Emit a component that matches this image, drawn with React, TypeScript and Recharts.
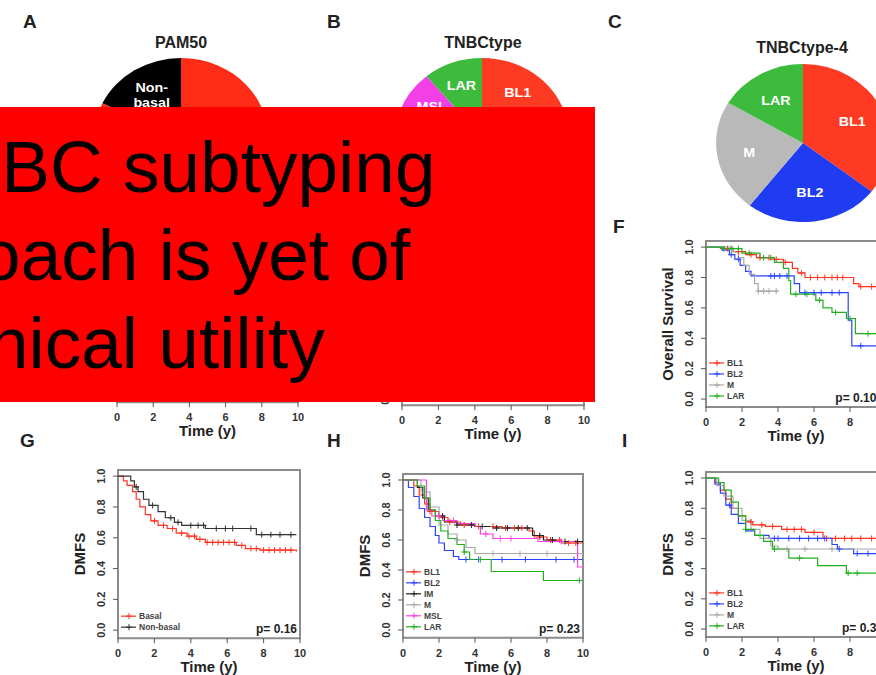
import React from "react";
import {
  ComposedChart,
  Line,
  Scatter,
  XAxis,
  YAxis,
  ReferenceArea,
  PieChart,
  Pie,
  Cell,
} from "recharts";

type Pt = [number, number];

const FONT = '"Liberation Sans", Arial, Helvetica, sans-serif';

// axis ticks
const yearTicks = [0, 2, 4, 6, 8, 10];
const survTicks = [0, 0.2, 0.4, 0.6, 0.8, 1];

// A: PAM50 split (%)
const pam50Names = ["Basal", "Non-basal"];
const pam50Share = [82, 18];
// B: TNBCtype (%)
const tnbcNames = ["BL1", "BL2", "IM", "M", "MSL", "LAR"];
const tnbcShare = [20, 14, 22, 24, 9, 11];
// C: TNBCtype-4 (%)
const tnbc4Names = ["BL1", "BL2", "M", "LAR"];
const tnbc4Share = [35.5, 25, 23, 16.5];

const PIE_COLORS: Record<string, string> = {
  Basal: "#ff2d17",
  "Non-basal": "#000000",
  BL1: "#ff3a22",
  BL2: "#1f3cf2",
  IM: "#111111",
  M: "#b9b9b9",
  MSL: "#f23fe6",
  LAR: "#3dbb3d",
};

const LINE_COLORS: Record<string, string> = {
  Basal: "#ff3322",
  "Non-basal": "#333333",
  BL1: "#ff3322",
  BL2: "#2a44ff",
  IM: "#222222",
  M: "#a9a9a9",
  MSL: "#ff40e0",
  LAR: "#22b022",
};

// F: overall survival by TNBCtype-4  [time (y), survival]
const osBL1: Pt[] = [[0, 1], [0.8, 0.99], [1.5, 0.97], [2.2, 0.95], [2.8, 0.93], [3.6, 0.92], [4.3, 0.9], [4.8, 0.86], [5.1, 0.83], [5.5, 0.8], [8.2, 0.76], [8.5, 0.74], [10, 0.74]];
const osBL2: Pt[] = [[0, 1], [0.9, 0.98], [1.3, 0.95], [1.6, 0.92], [1.9, 0.88], [2.2, 0.84], [2.5, 0.81], [4.9, 0.76], [5.2, 0.7], [7.9, 0.52], [8.1, 0.35], [10, 0.35]];
const osM: Pt[] = [[0, 1], [1.5, 0.97], [1.8, 0.93], [2.1, 0.88], [2.4, 0.82], [2.7, 0.76], [2.9, 0.71], [4.0, 0.71]];
const osLAR: Pt[] = [[0, 1], [1.0, 0.99], [2.0, 0.96], [3.0, 0.93], [3.8, 0.9], [4.3, 0.86], [4.6, 0.78], [4.7, 0.69], [6.1, 0.65], [6.5, 0.6], [7.0, 0.57], [7.8, 0.53], [8.3, 0.43], [10, 0.43]];
const osBL1Cens = [1.2, 1.8, 2.5, 3.0, 3.5, 3.9, 4.4, 5.3, 5.8, 6.2, 6.6, 7.0, 7.3, 7.6, 8.6, 9.2, 9.8];
const osBL2Cens = [1.4, 1.8, 3.6, 3.8, 4.1, 4.5, 5.5, 6.0, 6.4, 7.0, 7.4, 8.6];
const osMCens = [2.9, 3.2, 3.5, 3.9];
const osLARCens = [1.0, 1.4, 1.8, 2.4, 3.2, 3.6, 5.0, 5.6, 6.3, 7.2, 8.0, 9.0];

// G: DMFS by PAM50
const gBasal: Pt[] = [[0, 1], [0.3, 0.97], [0.5, 0.94], [0.8, 0.9], [1.0, 0.85], [1.2, 0.8], [1.5, 0.75], [1.8, 0.71], [2.2, 0.68], [2.7, 0.66], [3.2, 0.63], [3.8, 0.61], [4.3, 0.59], [4.8, 0.57], [6.5, 0.55], [7.0, 0.53], [7.8, 0.52], [9.8, 0.51]];
const gNonBasal: Pt[] = [[0, 1], [0.7, 0.97], [0.9, 0.93], [1.1, 0.9], [1.4, 0.85], [1.7, 0.81], [2.2, 0.77], [2.6, 0.73], [3.1, 0.7], [3.5, 0.68], [4.8, 0.66], [7.6, 0.62], [9.8, 0.62]];
const gBasalCens = [2.0, 2.5, 3.0, 3.5, 3.9, 4.2, 4.5, 4.9, 5.2, 5.5, 5.8, 6.1, 6.4, 6.8, 7.3, 7.6, 8.0, 8.3, 8.6, 8.9, 9.2, 9.5];
const gNonBasalCens = [1.0, 1.9, 2.9, 3.3, 4.0, 4.4, 4.7, 5.4, 5.9, 6.3, 7.3, 7.9, 8.4, 8.9, 9.5];

// H: DMFS by TNBCtype
const hBL1: Pt[] = [[0, 1], [0.6, 0.96], [0.9, 0.9], [1.2, 0.84], [1.5, 0.79], [2.0, 0.75], [2.5, 0.72], [3.2, 0.7], [4.0, 0.69], [5.5, 0.68], [7.0, 0.66], [7.3, 0.62], [8.0, 0.6], [8.8, 0.58], [10, 0.58]];
const hBL2: Pt[] = [[0, 1], [0.3, 0.95], [0.6, 0.89], [0.9, 0.81], [1.2, 0.75], [1.5, 0.69], [1.8, 0.63], [2.0, 0.58], [2.3, 0.53], [2.8, 0.49], [3.1, 0.47], [10, 0.47]];
const hIM: Pt[] = [[0, 1], [0.8, 0.95], [1.1, 0.88], [1.4, 0.8], [1.8, 0.76], [2.3, 0.72], [3.0, 0.7], [4.0, 0.69], [5.0, 0.68], [7.0, 0.68], [7.2, 0.63], [7.8, 0.6], [8.5, 0.59], [10, 0.58]];
const hM: Pt[] = [[0, 1], [1.0, 0.92], [1.5, 0.82], [2.0, 0.7], [2.5, 0.64], [3.0, 0.6], [3.5, 0.55], [4.0, 0.51], [10, 0.51]];
const hMSL: Pt[] = [[0, 1], [1.3, 0.8], [1.6, 0.76], [2.2, 0.73], [3.0, 0.71], [4.0, 0.69], [4.3, 0.64], [5.0, 0.61], [6.5, 0.61], [7.5, 0.59], [9.7, 0.42], [10, 0.42]];
const hLAR: Pt[] = [[0, 1], [0.8, 0.96], [1.2, 0.88], [1.5, 0.8], [1.8, 0.73], [2.1, 0.66], [2.5, 0.61], [3.0, 0.57], [3.4, 0.52], [3.7, 0.47], [4.9, 0.39], [7.8, 0.33], [10, 0.33]];
const hBL1Cens = [1.5, 2.6, 3.4, 4.2, 5.0, 5.7, 6.2, 6.6, 7.6, 8.2, 8.7, 9.2, 9.6];
const hBL2Cens = [3.5, 4.2, 5.5, 6.8, 8.5, 9.5];
const hIMCens = [2.2, 3.0, 3.8, 4.4, 5.2, 5.8, 6.4, 6.9, 7.6, 8.3, 9.0, 9.7];
const hMCens = [3.0, 5.0, 6.5, 8.0];
const hMSLCens = [2.0, 2.8, 4.6, 5.4, 6.0, 8.8];
const hLARCens = [3.4, 4.3, 9.8];

// I: DMFS by TNBCtype-4
const iBL1: Pt[] = [[0, 1], [0.5, 0.97], [0.8, 0.92], [1.1, 0.86], [1.4, 0.8], [1.8, 0.75], [2.2, 0.71], [2.6, 0.69], [3.3, 0.68], [4.2, 0.66], [5.5, 0.64], [6.5, 0.6], [10, 0.6]];
const iBL2: Pt[] = [[0, 1], [0.5, 0.96], [0.8, 0.9], [1.1, 0.82], [1.4, 0.76], [1.8, 0.7], [2.2, 0.65], [2.7, 0.62], [3.5, 0.6], [7.0, 0.56], [7.3, 0.53], [8.2, 0.5], [10, 0.5]];
const iM: Pt[] = [[0, 1], [0.6, 0.95], [1.0, 0.88], [1.5, 0.8], [2.0, 0.72], [2.5, 0.66], [3.0, 0.6], [3.6, 0.55], [4.0, 0.53], [10, 0.53]];
const iLAR: Pt[] = [[0, 1], [0.7, 0.97], [1.0, 0.92], [1.4, 0.84], [1.8, 0.75], [2.2, 0.66], [2.7, 0.62], [3.2, 0.58], [3.7, 0.53], [4.6, 0.47], [6.2, 0.42], [7.8, 0.37], [10, 0.37]];
const iBL1Cens = [2.5, 3.1, 3.7, 4.5, 4.9, 5.3, 6.0, 6.7, 7.2, 7.7, 8.1, 8.6, 9.2];
const iBL2Cens = [1.3, 3.8, 4.0, 4.6, 5.2, 5.7, 6.2, 6.6, 7.4, 8.4, 9.0];
const iMCens = [4.5, 5.5, 7.0];
const iLARCens = [2.2, 3.8, 5.2, 7.9, 8.4];

type Series = { name: string; pts: Pt[]; cens: number[] };

// value of a step curve at time t (last step at or before t)
const stepAt = (pts: Pt[], t: number) => {
  let s = pts[0][1];
  for (const [pt, ps] of pts) if (pt <= t) s = ps;
  return s;
};

const Y_DOMAIN: [number, number] = [-0.052, 1.04];
const ML = 50; // y axis area
const MT = 10;
const MR = 20;
const XH = 45; // x axis area

const RAD = Math.PI / 180;

// slice labels; labels that would sit under the banner are skipped
const makeSliceLabel = (factor: number, maxY: number) => (props: any) => {
  const { cx, cy, midAngle, outerRadius } = props;
  const name: string = props.name ?? props.payload?.name;
  const r = outerRadius * factor;
  const x = cx + r * Math.cos(-midAngle * RAD);
  const y = cy + r * Math.sin(-midAngle * RAD);
  if (y - cy > maxY) return null;
  const lines = name === "Non-basal" ? ["Non-", "basal"] : [name];
  const first = lines.length === 1 ? 5 : -3;
  return (
    <text
      x={x}
      y={y}
      fill="#fff"
      fontSize={13}
      fontWeight={700}
      textAnchor="middle"
      fontFamily={FONT}
    >
      {lines.map((l, i) => (
        <tspan key={l} x={x} dy={i === 0 ? first : 15}>
          {l}
        </tspan>
      ))}
    </text>
  );
};

function PiePanel({
  cx,
  cy,
  names,
  shares,
  factor,
  maxY,
}: {
  cx: number;
  cy: number;
  names: string[];
  shares: number[];
  factor: number;
  maxY: number;
}) {
  const R = 79;
  const size = 2 * R + 4;
  const data = names.map((n, i) => ({ name: n, value: shares[i] }));
  return (
    <div
      style={{
        position: "absolute",
        left: cx - size / 2,
        top: cy - size / 2,
        width: size,
        height: size,
        transform: "scaleX(1.1)",
        transformOrigin: "50% 50%",
      }}
    >
      <PieChart width={size} height={size} margin={{ top: 0, right: 0, bottom: 0, left: 0 }}>
        <Pie
          data={data}
          dataKey="value"
          nameKey="name"
          cx="50%"
          cy="50%"
          outerRadius={R}
          startAngle={90}
          endAngle={-270}
          stroke="none"
          label={makeSliceLabel(factor, maxY)}
          labelLine={false}
          isAnimationActive={false}
        >
          {data.map((d) => (
            <Cell key={d.name} fill={PIE_COLORS[d.name]} />
          ))}
        </Pie>
      </PieChart>
    </div>
  );
}

function SurvTick({ x, y, payload }: any) {
  const tx = x - 6;
  return (
    <text
      x={tx}
      y={y}
      transform={`rotate(-90 ${tx} ${y})`}
      textAnchor="middle"
      fontSize={11}
      fontWeight={700}
      fill="#333"
      fontFamily={FONT}
    >
      {Number(payload.value).toFixed(1)}
    </text>
  );
}

const plusShape = (color: string) => (p: any) =>
  <path d={`M${p.cx - 3},${p.cy}h6M${p.cx},${p.cy - 3}v6`} stroke={color} strokeWidth={1} fill="none" />;

type Geom = { x0: number; x10: number; yTop: number; yZero: number };

function KMPanel({
  g,
  series,
  yLabel,
  pValue,
}: {
  g: Geom;
  series: Series[];
  yLabel: string;
  pValue?: string;
}) {
  const span = g.yZero - g.yTop;
  const boxTop = g.yTop - (Y_DOMAIN[1] - 1) * span;
  const boxBottom = g.yZero - Y_DOMAIN[0] * span;
  const boxH = boxBottom - boxTop;
  const plotW = g.x10 - g.x0;
  const width = plotW + ML + MR;
  const height = boxH + MT + XH;
  const n = series.length;
  return (
    <div style={{ position: "absolute", left: g.x0 - ML, top: boxTop - MT, width, height }}>
      <ComposedChart width={width} height={height} margin={{ top: MT, right: MR, bottom: 0, left: 0 }}>
        <XAxis
          type="number"
          dataKey="t"
          domain={[0, 10]}
          ticks={yearTicks}
          interval={0}
          allowDataOverflow
          axisLine={false}
          tickSize={5}
          tickMargin={6}
          tickLine={{ stroke: "#555" }}
          height={XH}
          tick={{ fontSize: 11, fontWeight: 700, fill: "#333", fontFamily: FONT }}
        />
        <YAxis
          type="number"
          dataKey="s"
          domain={Y_DOMAIN}
          ticks={survTicks}
          interval={0}
          allowDataOverflow
          axisLine={false}
          tickSize={5}
          tickLine={{ stroke: "#555" }}
          width={ML}
          tick={<SurvTick />}
        />
        <ReferenceArea
          x1={0}
          x2={10}
          y1={Y_DOMAIN[0]}
          y2={Y_DOMAIN[1]}
          fill="none"
          stroke="#8c8c8c"
          strokeWidth={2}
          ifOverflow="visible"
        />
        {series.map((s) => (
          <Line
            key={s.name}
            data={s.pts.map(([t, v]) => ({ t, s: v }))}
            dataKey="s"
            type="stepAfter"
            stroke={LINE_COLORS[s.name]}
            strokeWidth={1.2}
            dot={false}
            isAnimationActive={false}
          />
        ))}
        {series.map((s) => (
          <Scatter
            key={s.name + "-c"}
            data={s.cens.map((t) => ({ t, s: stepAt(s.pts, t) }))}
            fill={LINE_COLORS[s.name]}
            shape={plusShape(LINE_COLORS[s.name])}
            isAnimationActive={false}
          />
        ))}
      </ComposedChart>
      <svg
        width={width}
        height={height}
        style={{ position: "absolute", left: 0, top: 0, pointerEvents: "none" }}
        fontFamily={FONT}
      >
        <text
          x={ML - 38}
          y={MT + boxH / 2}
          transform={`rotate(-90 ${ML - 38} ${MT + boxH / 2})`}
          textAnchor="middle"
          dominantBaseline="central"
          fontSize={15}
          fontWeight={700}
          fill="#222"
        >
          {yLabel}
        </text>
        <text
          x={ML + plotW / 2}
          y={MT + boxH + 34}
          textAnchor="middle"
          fontSize={15}
          fontWeight={700}
          fill="#222"
        >
          Time (y)
        </text>
        {series.map((s, i) => {
          const y = MT + boxH - 11 - (n - 1 - i) * 11;
          const c = LINE_COLORS[s.name];
          return (
            <g key={s.name}>
              <line x1={ML + 3} x2={ML + 18} y1={y} y2={y} stroke={c} strokeWidth={1.2} />
              <path d={`M${ML + 8},${y}h6M${ML + 11},${y - 3}v6`} stroke={c} strokeWidth={1} />
              <text x={ML + 21} y={y + 3} fontSize={8.5} fontWeight={700} fill="#444">
                {s.name}
              </text>
            </g>
          );
        })}
        {pValue && (
          <text
            x={ML + plotW - 3}
            y={MT + boxH - 5}
            textAnchor="end"
            fontSize={12}
            fontWeight={700}
            fill="#222"
          >
            {pValue}
          </text>
        )}
      </svg>
    </div>
  );
}

const fSeries: Series[] = [
  { name: "BL1", pts: osBL1, cens: osBL1Cens },
  { name: "BL2", pts: osBL2, cens: osBL2Cens },
  { name: "M", pts: osM, cens: osMCens },
  { name: "LAR", pts: osLAR, cens: osLARCens },
];
const gSeries: Series[] = [
  { name: "Basal", pts: gBasal, cens: gBasalCens },
  { name: "Non-basal", pts: gNonBasal, cens: gNonBasalCens },
];
const hSeries: Series[] = [
  { name: "BL1", pts: hBL1, cens: hBL1Cens },
  { name: "BL2", pts: hBL2, cens: hBL2Cens },
  { name: "IM", pts: hIM, cens: hIMCens },
  { name: "M", pts: hM, cens: hMCens },
  { name: "MSL", pts: hMSL, cens: hMSLCens },
  { name: "LAR", pts: hLAR, cens: hLARCens },
];
const iSeries: Series[] = [
  { name: "BL1", pts: iBL1, cens: iBL1Cens },
  { name: "BL2", pts: iBL2, cens: iBL2Cens },
  { name: "M", pts: iM, cens: iMCens },
  { name: "LAR", pts: iLAR, cens: iLARCens },
];

const panelLetters: [string, number, number][] = [
  ["A", 23, 28],
  ["B", 327, 28],
  ["C", 608, 28],
  ["F", 613, 233],
  ["G", 20, 447],
  ["H", 327, 447],
  ["I", 622, 447],
];

const pieTitles: [string, number, number][] = [
  ["PAM50", 181, 48],
  ["TNBCtype", 483, 48],
  ["TNBCtype-4", 802, 53],
];

const bannerLines: [string, number, number][] = [
  ["TNBC subtyping", -96, 85],
  ["approach is yet of", -166, 173],
  ["clinical utility", -81, 261],
];

export default function App() {
  return (
    <div
      style={{
        position: "absolute",
        left: 0,
        top: 0,
        width: 876,
        height: 675,
        overflow: "hidden",
        background: "#fff",
        fontFamily: FONT,
      }}
    >
      <PiePanel cx={181} cy={137} names={pam50Names} shares={pam50Share} factor={0.63} maxY={-20} />
      <PiePanel cx={482} cy={137} names={tnbcNames} shares={tnbcShare} factor={0.7} maxY={-20} />
      <PiePanel cx={803} cy={143} names={tnbc4Names} shares={tnbc4Share} factor={0.63} maxY={100} />

      {/* D and E sit under the banner: only their time axes show */}
      <KMPanel g={{ x0: 117, x10: 298, yTop: 240, yZero: 394 }} series={[]} yLabel="Overall Survival" />
      <KMPanel g={{ x0: 402, x10: 584, yTop: 243, yZero: 397 }} series={[]} yLabel="Overall Survival" />
      <KMPanel g={{ x0: 706, x10: 886, yTop: 247, yZero: 399 }} series={fSeries} yLabel="Overall Survival" pValue="p= 0.108" />
      <KMPanel g={{ x0: 118, x10: 300, yTop: 476, yZero: 630 }} series={gSeries} yLabel="DMFS" pValue="p= 0.16" />
      <KMPanel g={{ x0: 403, x10: 583, yTop: 480, yZero: 630 }} series={hSeries} yLabel="DMFS" pValue="p= 0.23" />
      <KMPanel g={{ x0: 706, x10: 886, yTop: 478, yZero: 629 }} series={iSeries} yLabel="DMFS" pValue="p= 0.35" />

      <svg
        width={876}
        height={675}
        style={{ position: "absolute", left: 0, top: 0, pointerEvents: "none" }}
        fontFamily={FONT}
      >
        {panelLetters.map(([l, x, y]) => (
          <text key={l} x={x} y={y} fontSize={19} fontWeight={700} fill="#222">
            {l}
          </text>
        ))}
        {pieTitles.map(([t, x, y]) => (
          <text key={t} x={x} y={y} fontSize={16} fontWeight={700} fill="#222" textAnchor="middle">
            {t}
          </text>
        ))}
      </svg>

      <div
        style={{
          position: "absolute",
          left: 0,
          top: 107,
          width: 595,
          height: 295,
          background: "#ff0000",
          overflow: "hidden",
        }}
      >
        <svg width={595} height={295} fontFamily={FONT}>
          {bannerLines.map(([t, x, y]) => (
            <text key={t} x={x} y={y} fontSize={73} fill="#000">
              {t}
            </text>
          ))}
        </svg>
      </div>
    </div>
  );
}
